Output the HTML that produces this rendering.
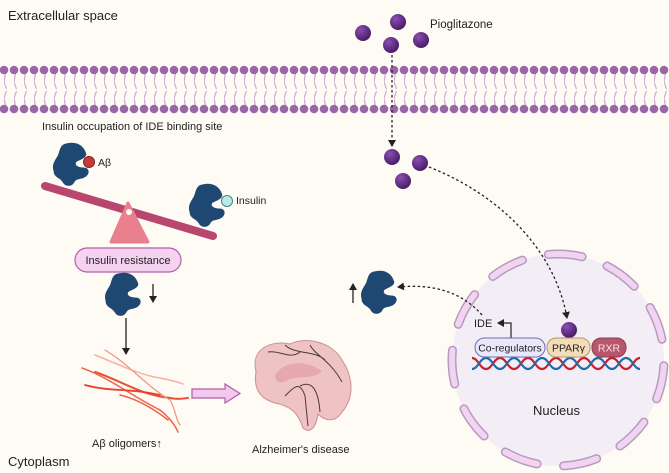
<!DOCTYPE html>
<html><head><meta charset="utf-8"><style>
html,body{margin:0;padding:0;background:#fdfbf3;width:669px;height:473px;overflow:hidden;}
svg{display:block;}
text{font-family:"Liberation Sans",sans-serif;fill:#222;}
</style></head><body>
<svg width="669" height="473" viewBox="0 0 669 473" xmlns="http://www.w3.org/2000/svg">
<defs>
<pattern id="mem" x="4" y="0" width="10" height="473" patternUnits="userSpaceOnUse">
<path d="M-2,70 L0,82 L-2.5,89 M2,70 L0,82 L2.5,89 M-2.5,91 L0,98 L-2,109 M2.5,91 L0,98 L2,109" stroke="#cdaad6" stroke-width="1.2" fill="none"/>
<circle cx="0" cy="70" r="4.3" fill="#9a66a8"/>
<circle cx="10" cy="70" r="4.3" fill="#9a66a8"/>
<circle cx="0" cy="109" r="4.3" fill="#9a66a8"/>
<circle cx="10" cy="109" r="4.3" fill="#9a66a8"/>
</pattern>
<radialGradient id="ball" cx="0.35" cy="0.3" r="0.7">
<stop offset="0" stop-color="#8a4fb0"/><stop offset="1" stop-color="#4a1d6a"/>
</radialGradient>
<path id="ide" transform="scale(1.15)" d="M-4,-18 C4,-20 10,-16 12,-10 C14,-6 8,-4 4,-2 C2,0 4,3 10,3 C15,3 16,8 12,11 C8,14 4,12 2,16 C0,20 -6,20 -8,16 C-10,12 -16,12 -16,6 C-18,0 -14,-4 -12,-8 C-10,-14 -10,-17 -4,-18Z" fill="#1e4872"/>
<marker id="ah" markerWidth="8" markerHeight="8" refX="6" refY="4" orient="auto" markerUnits="userSpaceOnUse">
<path d="M0,0 L7,4 L0,8Z" fill="#222"/>
</marker>
</defs>
<rect width="669" height="473" fill="#fdfbf3"/>
<rect x="0" y="64" width="669" height="50" fill="url(#mem)"/>

<text x="8" y="20" font-size="13">Extracellular space</text>
<text x="8" y="466" font-size="13">Cytoplasm</text>
<text x="430" y="28" font-size="11.5">Pioglitazone</text>
<text x="42" y="130" font-size="11">Insulin occupation of IDE binding site</text>

<!-- nucleus -->
<circle cx="558" cy="360" r="106" fill="#f3eef6"/>
<circle cx="558" cy="360" r="106" fill="none" stroke="#b89ac0" stroke-width="9" stroke-dasharray="34 26.6" stroke-linecap="round" transform="rotate(-128 558 360)"/>
<circle cx="558" cy="360" r="106" fill="none" stroke="#f0d4f0" stroke-width="6" stroke-dasharray="34 26.6" stroke-linecap="round" transform="rotate(-128 558 360)"/>
<text x="533" y="415" font-size="13">Nucleus</text>

<!-- pioglitazone balls -->
<g fill="url(#ball)">
<circle cx="363" cy="33" r="8"/><circle cx="398" cy="22" r="8"/><circle cx="421" cy="40" r="8"/><circle cx="391" cy="45" r="8"/>
<circle cx="392" cy="157" r="8"/><circle cx="420" cy="163" r="8"/><circle cx="403" cy="181" r="8"/>
<circle cx="569" cy="330" r="8"/>
</g>
<path d="M392,55 L392,146" stroke="#222" stroke-width="1.3" stroke-dasharray="2.5 2.5" fill="none" marker-end="url(#ah)"/>
<path d="M429,167 C500,195 555,250 567,318" stroke="#222" stroke-width="1.3" stroke-dasharray="2.5 2.5" fill="none" marker-end="url(#ah)"/>
<path d="M482,315 C460,290 430,284 398,287" stroke="#222" stroke-width="1.3" stroke-dasharray="2.5 2.5" fill="none" marker-end="url(#ah)"/>

<!-- nucleus content -->
<text x="474" y="327" font-size="11">IDE</text>
<path d="M511,338 L511,323 L498,323" stroke="#222" stroke-width="1.2" fill="none" marker-end="url(#ah)"/>
<path d="M472,358 C478,358 480,369 486,369 C492,369 494,358 500,358 C506,358 508,369 514,369 C520,369 522,358 528,358 C534,358 536,369 542,369 C548,369 550,358 556,358 C562,358 564,369 570,369 C576,369 578,358 584,358 C590,358 592,369 598,369 C604,369 606,358 612,358 C618,358 620,369 626,369 C632,369 634,358 640,358" stroke="#c8202a" stroke-width="2.2" fill="none"/>
<path d="M472,369 C478,369 480,358 486,358 C492,358 494,369 500,369 C506,369 508,358 514,358 C520,358 522,369 528,369 C534,369 536,358 542,358 C548,358 550,369 556,369 C562,369 564,358 570,358 C576,358 578,369 584,369 C590,369 592,358 598,358 C604,358 606,369 612,369 C618,369 620,358 626,358 C632,358 634,369 640,369" stroke="#1f6aa8" stroke-width="2.2" fill="none"/>
<rect x="475" y="338" width="70" height="19" rx="9.5" fill="#e9e7fa" stroke="#6d6bb5"/>
<text x="510" y="351.5" font-size="10.5" text-anchor="middle">Co-regulators</text>
<rect x="547" y="338" width="43" height="19" rx="9" fill="#f3dcb8" stroke="#b3966c"/>
<text x="568.5" y="351.5" font-size="10.5" text-anchor="middle">PPARγ</text>
<rect x="592" y="338" width="34" height="19" rx="9" fill="#b8566e" stroke="#8e3d53"/>
<text x="609" y="351.5" font-size="10.5" text-anchor="middle" style="fill:#f4e6ea">RXR</text>

<!-- seesaw -->
<line x1="45" y1="186" x2="213" y2="236" stroke="#b8466e" stroke-width="8" stroke-linecap="round"/>
<path d="M128,203 L148,242 L111,242Z" fill="#e8808e" stroke="#e8808e" stroke-linejoin="round" stroke-width="3"/>
<circle cx="129" cy="212" r="3" fill="#fdfbf3"/>
<use href="#ide" x="72" y="164"/>
<circle cx="89" cy="162" r="5.5" fill="#c83a3a" stroke="#8a2020"/>
<text x="98" y="166" font-size="10.5">Aβ</text>
<use href="#ide" x="208" y="205"/>
<circle cx="227" cy="201" r="5.5" fill="#bfe8e4" stroke="#3a8c88"/>
<text x="236" y="204" font-size="10.5">Insulin</text>
<rect x="75" y="248" width="106" height="24" rx="12" fill="#f4d2f0" stroke="#b35ea8" stroke-width="1.2"/>
<text x="128" y="264" font-size="11" text-anchor="middle">Insulin resistance</text>

<use href="#ide" x="124" y="294"/>
<line x1="153" y1="284" x2="153" y2="302" stroke="#222" stroke-width="1.3" marker-end="url(#ah)"/>
<line x1="126" y1="318" x2="126" y2="354" stroke="#222" stroke-width="1.3" marker-end="url(#ah)"/>

<use href="#ide" x="380" y="292"/>
<line x1="353" y1="303" x2="353" y2="284" stroke="#222" stroke-width="1.3" marker-end="url(#ah)"/>

<!-- oligomers -->
<g fill="none" stroke-linecap="round">
<path d="M95,372 C120,380 140,395 170,398 C180,400 185,398 188,398" stroke="#e8503a" stroke-width="2"/>
<path d="M82,368 C110,378 130,395 160,410 C170,418 175,425 178,432" stroke="#f06a50" stroke-width="1.6"/>
<path d="M85,385 C110,392 130,388 160,395" stroke="#e84030" stroke-width="1.8"/>
<path d="M95,355 C120,365 140,375 160,378 C170,380 178,382 183,384" stroke="#f8b0a0" stroke-width="1.5"/>
<path d="M105,350 C130,365 145,385 170,400 C176,410 175,418 180,425" stroke="#f49080" stroke-width="1.2"/>
<path d="M120,395 C140,400 155,410 168,420" stroke="#ec6048" stroke-width="1.5"/>
</g>
<text x="92" y="447" font-size="11">Aβ oligomers↑</text>

<path d="M192,389 L225,389 L225,384 L240,393.5 L225,403 L225,398 L192,398Z" fill="#f2c8ec" stroke="#b65ca8" stroke-width="1.2"/>

<!-- brain -->
<path d="M256,372 C250,348 272,340 290,344 C306,336 332,342 342,360 C354,378 354,398 342,412 C336,422 326,422 318,414 C316,428 310,434 303,428 C298,412 290,406 275,403 C261,399 253,390 256,372Z" fill="#efc2c4" stroke="#c98f94"/>
<path d="M275,376 C282,361 305,359 322,371 C316,379 300,376 290,379 C283,383 276,385 275,376Z" fill="#e6a8ac"/>
<path d="M268,352 C280,350 290,360 300,352 M285,345 C295,355 315,350 325,360 M310,345 C315,355 330,360 342,382 M285,396 C295,386 300,381 305,396 L308,426 M300,386 C310,381 318,386 320,412" stroke="#4a3a3a" stroke-width="1" fill="none"/>
<text x="252" y="453" font-size="11">Alzheimer's disease</text>
</svg>
</body></html>
